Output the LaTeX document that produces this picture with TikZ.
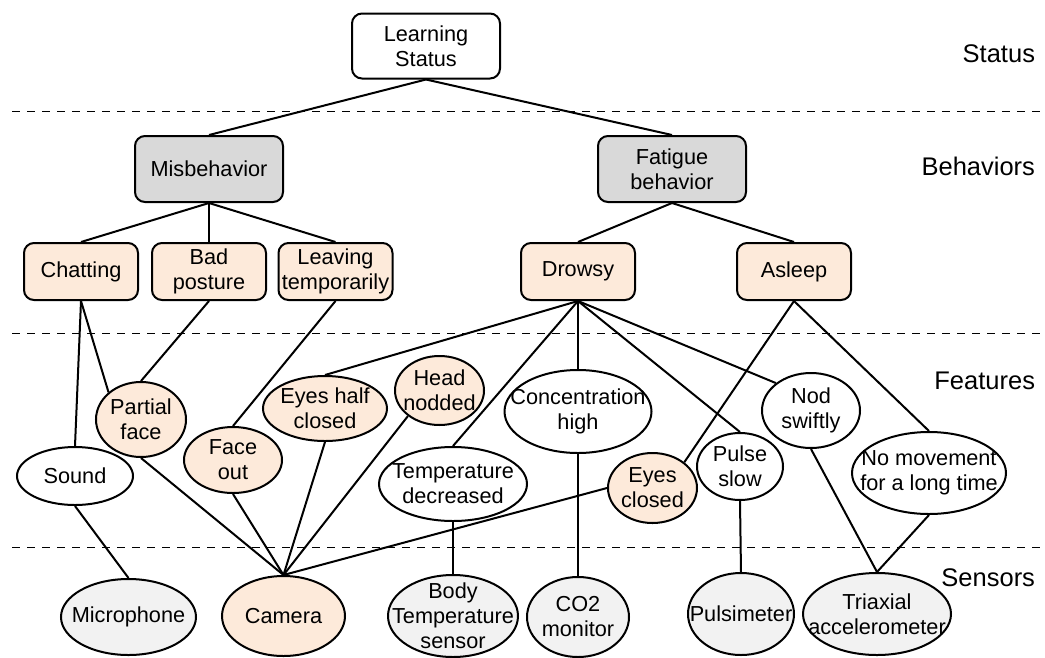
\documentclass[tikz,border=0pt]{standalone}
\usepackage{fontspec}
\setmainfont{Liberation Sans}
\usetikzlibrary{shapes.geometric,backgrounds}
\definecolor{peach}{RGB}{253,234,218}
\definecolor{groupgray}{RGB}{217,217,217}
\definecolor{sensorgray}{RGB}{242,242,242}

\begin{document}
\begin{tikzpicture}[x=1pt,y=-1pt,line width=2pt,
  every node/.style={font=\fontsize{21.7}{25}\selectfont},
  rbox/.style={draw, rectangle, rounded corners=10pt, align=center, inner sep=1pt,
               minimum width=114pt, minimum height=57pt},
  topbox/.style={rbox, fill=white, minimum width=148pt, minimum height=65pt},
  grp/.style={rbox, fill=groupgray, minimum width=148pt, minimum height=66pt},
  beh/.style={rbox, fill=peach},
  ell/.style={draw, ellipse, inner sep=0pt},
  feat/.style={ell, fill=white},
  feato/.style={ell, fill=peach},
  sens/.style={ell, fill=sensorgray},
  txt/.style={align=center, inner sep=0pt},
  layer/.style={anchor=base east, inner sep=0pt, font=\fontsize{25.5}{30}\selectfont},
  sep/.style={dash pattern=on 8pt off 7pt},
  link/.style={line width=2pt}]

\useasboundingbox (0,0) rectangle (1045,657);

% layer names
\node[layer] (lstatus) at (1036,62) {Status};
\node[layer] (lbeh) at (1036,175) {Behaviors};
\node[layer] (lfeat) at (1036,389) {Features};
\node[layer] (lsens) at (1036,586) {Sensors};

% status and behaviors
\node[topbox] (ls) at (426,46) {Learning\\Status};
\node[grp] (mis) at (209,169) {Misbehavior};
\node[grp] (fat) at (672,169) {Fatigue\\behavior};
\node[beh] (chat) at (81,271.5) {Chatting};
\node[beh] (bad) at (209,271.5) {Bad\\posture};
\node[beh] (leave) at (335.5,271.5) {Leaving\\temporarily};
\node[beh] (drowsy) at (578,271.5) {Drowsy};
\node[beh] (asleep) at (794,271.5) {Asleep};

% features
\node[feato, minimum width=90pt, minimum height=75pt, label={[txt]center:{Partial\\face}}] (pf) at (141,419.5) {};
\node[feat, minimum width=116pt, minimum height=58pt, label={[txt]center:{Sound}}] (sound) at (75,476) {};
\node[feato, minimum width=98pt, minimum height=66pt, label={[txt]center:{Face\\out}}] (fo) at (233,460) {};
\node[feato, minimum width=124pt, minimum height=65pt, label={[txt]center:{Eyes half\\closed}}] (ehc) at (325,408.5) {};
\node[feato, minimum width=89pt, minimum height=69pt, label={[txt]center:{Head\\nodded}}] (hn) at (439.5,390.5) {};
\node[feat, minimum width=148pt, minimum height=74pt, label={[txt]center:{Temperature\\decreased}}] (td) at (453,484) {};
\node[feat, minimum width=147pt, minimum height=83pt, label={[txt]center:{Concentration\\high}}] (ch) at (578,411.5) {};
\node[feato, minimum width=89pt, minimum height=70pt, label={[txt]center:{Eyes\\closed}}] (ec) at (652.5,488) {};
\node[feat, minimum width=86pt, minimum height=67pt, label={[txt]center:{Pulse\\slow}}] (ps) at (740,466.5) {};
\node[feat, minimum width=98pt, minimum height=75pt, label={[txt]center:{Nod\\swiftly}}] (ns) at (811,410.5) {};
\node[feat, minimum width=154pt, minimum height=82pt, label={[txt]center:{No movement\\for a long time}}] (nm) at (929,473) {};

% sensors
\node[sens, minimum width=135pt, minimum height=76pt, label={[txt]center:{Microphone}}] (mic) at (128.5,617) {};
\node[feato, minimum width=123pt, minimum height=80pt, label={[txt]center:{Camera}}] (cam) at (283.5,616) {};
\node[sens, minimum width=130pt, minimum height=82pt, label={[txt]center:{Body\\Temperature\\sensor}}] (bts) at (453,616) {};
\node[sens, minimum width=102pt, minimum height=80pt, label={[txt]center:{CO2\\monitor}}] (co2) at (578,617) {};
\node[sens, minimum width=106pt, minimum height=82pt, label={[txt]center:{Pulsimeter}}] (pulsi) at (741,614) {};
\node[sens, minimum width=148pt, minimum height=82pt, label={[txt]center:{Triaxial\\accelerometer}}] (tri) at (877,614) {};

\begin{pgfonlayer}{background}
  % layer separators
  \draw[sep] (12,111) -- (1045,111);
  \draw[sep] (12,333) -- (1045,333);
  \draw[sep] (12,547) -- (1045,547);

  % status to behaviors
  \draw[link] (ls.south) -- (mis.north);
  \draw[link] (ls.south) -- (fat.north);
  \draw[link] (mis.south) -- (chat.north);
  \draw[link] (mis.south) -- (bad.north);
  \draw[link] (mis.south) -- (leave.north);
  \draw[link] (fat.south) -- (drowsy.north);
  \draw[link] (fat.south) -- (asleep.north);

  % behaviors to features
  \draw[link] (chat.south) -- (sound.north);
  \draw[link] (chat.south) -- (pf.140);
  \draw[link] (bad.south) -- (pf.north);
  \draw[link] (leave.south) -- (fo.north);
  \draw[link] (drowsy.south) -- (ehc.north);
  \draw[link] (drowsy.south) -- (td.north);
  \draw[link] (drowsy.south) -- (ch.north);
  \draw[link] (drowsy.south) -- (ps.north);
  \draw[link] (drowsy.south) -- (ns.142);
  \draw[link] (asleep.south) -- (ec.39);
  \draw[link] (asleep.south) -- (nm.north);

  % features to sensors
  \draw[link] (sound.south) -- (mic.north);
  \draw[link] (pf.south) -- (cam.north);
  \draw[link] (fo.south) -- (cam.north);
  \draw[link] (ehc.south) -- (cam.north);
  \draw[link] (hn.219) -- (cam.north);
  \draw[link] (ec.west) -- (cam.north);
  \draw[link] (td.south) -- (bts.north);
  \draw[link] (ch.south) -- (co2.north);
  \draw[link] (ps.south) -- (pulsi.north);
  \draw[link] (ns.south) -- (tri.north);
  \draw[link] (nm.south) -- (tri.north);
\end{pgfonlayer}
\end{tikzpicture}
\end{document}
